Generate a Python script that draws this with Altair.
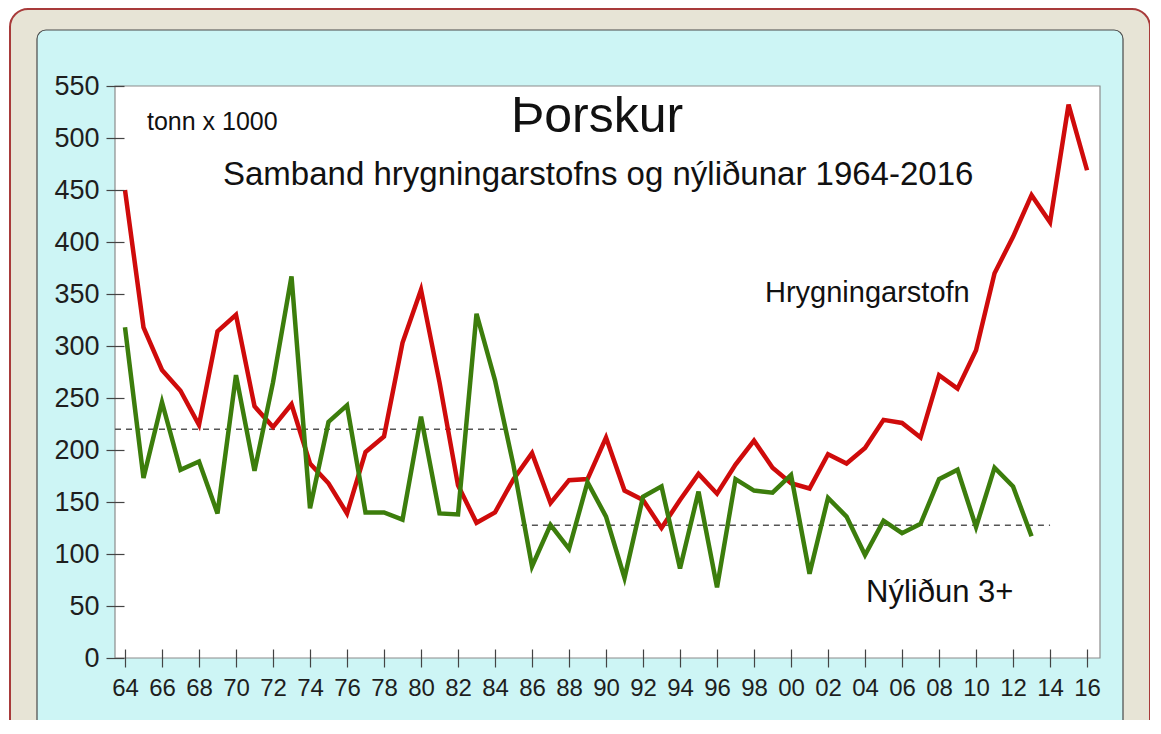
import altair as alt
import pandas as pd

# ---- data ----
years_spawn = list(range(1964, 2017))
spawning = [450, 318, 277, 257, 224, 314, 330, 242, 222, 244,
            187, 168, 139, 198, 213, 303, 354, 265, 166, 130,
            140, 172, 197, 149, 171, 172, 212, 161, 152, 125,
            152, 177, 158, 186, 209, 183, 168, 163, 196, 187,
            202, 229, 226, 212, 272, 259, 296, 370, 405, 445,
            419, 532, 469]

years_recr = list(range(1964, 2014))
recruitment = [318, 173, 246, 181, 189, 139, 272, 180, 265, 367,
               144, 227, 243, 140, 140, 133, 232, 139, 138, 331,
               267, 185, 88, 128, 105, 169, 136, 77, 155, 165,
               86, 160, 68, 172, 161, 159, 176, 81, 154, 136,
               99, 132, 120, 129, 172, 181, 126, 183, 165, 117]

series_names = ["Hrygningarstofn", "Nýliðun 3+"]
series_colors = ["#cf0b0b", "#3c7d0c"]

avg_start = [1963.46, 1985.4]
avg_end = [1985.35, 2014.0]
avg_value = [220, 127.6]

x_ticks = list(range(1964, 2017, 2))
y_ticks = list(range(0, 551, 50))

FONT = "Liberation Sans"

df = pd.DataFrame(
    {"year": years_spawn, "value": spawning, "series": series_names[0]}
)
df = pd.concat(
    [df, pd.DataFrame({"year": years_recr, "value": recruitment, "series": series_names[1]})],
    ignore_index=True,
)
avg_df = pd.DataFrame({"start": avg_start, "end": avg_end, "value": avg_value})
one = pd.DataFrame({"k": [0]})

W, H = 985, 572

x_scale = alt.Scale(domain=[1963.46, 2016.70], nice=False, zero=False)
y_scale = alt.Scale(domain=[0, 550], nice=False)

x_axis = alt.Axis(
    title=None, values=x_ticks, domain=False, grid=False,
    labelExpr="substring(toString(datum.value), 2)",
    tickSize=18, offset=-9, tickColor="#444444", tickWidth=1.2,
    labelFont=FONT, labelFontSize=24, labelColor="#1e1e1e",
    labelPadding=9, zindex=1, labelFlush=False, labelOverlap=False,
)
y_axis = alt.Axis(
    title=None, values=y_ticks, domain=False, grid=False,
    tickSize=18, offset=-9, tickColor="#444444", tickWidth=1.2,
    labelFont=FONT, labelFontSize=27, labelColor="#1e1e1e",
    labelPadding=7, zindex=1, labelFlush=False, labelOverlap=False,
)

# ---- decorative frames ----
outer = alt.Chart(one).mark_rect(
    fill="#e7e4d6", stroke="#a83a3a", strokeWidth=2, cornerRadius=18
).encode(x=alt.value(-105), x2=alt.value(1035), y=alt.value(-77), y2=alt.value(720))

inner = alt.Chart(one).mark_rect(
    fill="#cdf5f5", stroke="#4a4a4a", strokeWidth=1.2, cornerRadius=9
).encode(x=alt.value(-78), x2=alt.value(1008), y=alt.value(-56), y2=alt.value(720))

plot_bg = alt.Chart(one).mark_rect(
    fill="white", stroke="#8c8c8c", strokeWidth=1.2
).encode(x=alt.value(0), x2=alt.value("width"), y=alt.value(0), y2=alt.value("height"))

# ---- average dashed lines ----
avg = alt.Chart(avg_df).mark_rule(
    color="#555555", strokeWidth=1.6, strokeDash=[6, 5]
).encode(
    x=alt.X("start:Q", scale=x_scale, axis=x_axis),
    x2="end:Q",
    y=alt.Y("value:Q", scale=y_scale, axis=y_axis),
)

# ---- series lines ----
lines = alt.Chart(df).mark_line(strokeWidth=4.5, strokeJoin="miter").encode(
    x=alt.X("year:Q", scale=x_scale, axis=x_axis),
    y=alt.Y("value:Q", scale=y_scale, axis=y_axis),
    color=alt.Color("series:N", scale=alt.Scale(domain=series_names, range=series_colors), legend=None),
    detail="series:N",
)

# ---- texts ----
def txt(text, x, y, size, align="left"):
    return alt.Chart(one).mark_text(
        text=text, font=FONT, fontSize=size, align=align, baseline="alphabetic", color="#111111"
    ).encode(x=alt.value(x), y=alt.value(y))

texts = [
    txt("Þorskur", 482, 46, 50, "center"),
    txt("tonn x 1000", 32, 44, 25),
    txt("Samband hrygningarstofns og nýliðunar 1964-2016", 108, 99, 33),
    txt("Hrygningarstofn", 650, 216, 29),
    txt("Nýliðun 3+", 751, 516, 31),
]

chart = alt.layer(outer, inner, plot_bg, avg, lines, *texts).properties(
    width=W, height=H,
    autosize=alt.AutoSizeParams(type="none"),
    padding={"left": 107, "top": 78, "right": 50, "bottom": 62},
).configure_view(strokeWidth=0).configure(background="white")

chart.save("out.html", embed_options={"renderer": "svg", "actions": False})
